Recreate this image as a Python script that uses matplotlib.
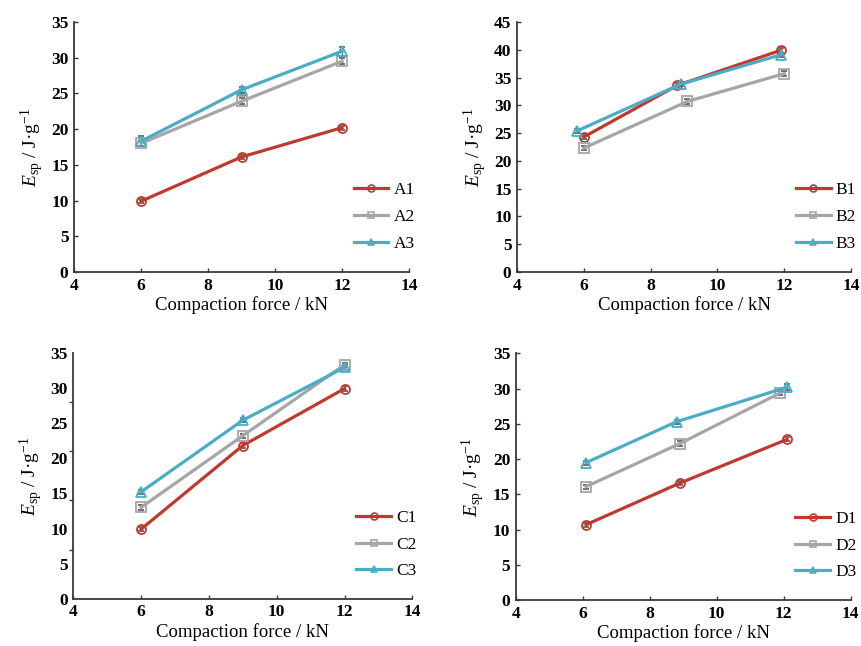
import matplotlib
matplotlib.use("Agg")
import matplotlib.pyplot as plt
from matplotlib.lines import Line2D
from matplotlib.ticker import MultipleLocator, FixedLocator, NullFormatter

plt.rcParams['font.family'] = ['Liberation Serif', 'DejaVu Serif']
plt.rcParams['mathtext.fontset'] = 'custom'
plt.rcParams['mathtext.rm'] = 'Liberation Serif'
plt.rcParams['mathtext.it'] = 'Liberation Serif:italic'

# ---- data ----
# Panel A
xA1 = [6, 9, 12];      yA1 = [9.9, 16.1, 20.2];  eA1 = [0.3, 0.3, 0.3]
xA2 = [6, 9, 12];      yA2 = [18.0, 23.9, 29.5]; eA2 = [0.4, 0.4, 0.4]
xA3 = [6, 9, 12];      yA3 = [18.3, 25.5, 30.9]; eA3 = [0.7, 0.4, 0.6]
# Panel B
xB1 = [6.0, 8.8, 11.9]; yB1 = [24.3, 33.6, 39.9]; eB1 = [0.4, 0.4, 0.4]
xB2 = [6.0, 9.1, 12.0]; yB2 = [22.3, 30.7, 35.7]; eB2 = [0.4, 0.4, 0.4]
xB3 = [5.8, 8.9, 11.9]; yB3 = [25.4, 33.8, 39.1]; eB3 = [0.3, 0.4, 0.4]
# Panel C
xC1 = [6, 9, 12];      yC1 = [9.9, 21.8, 29.9];  eC1 = [0.3, 0.3, 0.3]
xC2 = [6, 9, 12];      yC2 = [13.0, 23.2, 33.3]; eC2 = [0.3, 0.3, 0.3]
xC3 = [6, 9, 12];      yC3 = [15.2, 25.4, 32.9]; eC3 = [0.3, 0.3, 0.3]
# Panel D
xD1 = [6.1, 8.9, 12.1]; yD1 = [10.7, 16.6, 22.8]; eD1 = [0.3, 0.3, 0.3]
xD2 = [6.1, 8.9, 11.9]; yD2 = [16.1, 22.2, 29.4]; eD2 = [0.3, 0.3, 0.3]
xD3 = [6.1, 8.8, 12.1]; yD3 = [19.5, 25.3, 30.2]; eD3 = [0.3, 0.3, 0.4]

xticks = [4, 6, 8, 10, 12, 14]
xlabel = "Compaction force / kN"
ylabel = r"$E_{\mathrm{sp}}$ / J·g$^{\mathrm{-1}}$"

RED = '#C0392F'
GRAY = '#A6A6A6'
CYAN = '#4BACC6'
AXC = '#3a3a3a'

panels = [
    dict(pos=[0.086, 0.579, 0.389, 0.387], ymax=35,
         series=[(xA1, yA1, eA1, 'A1'), (xA2, yA2, eA2, 'A2'), (xA3, yA3, eA3, 'A3')]),
    dict(pos=[0.6005, 0.579, 0.388, 0.387], ymax=45,
         series=[(xB1, yB1, eB1, 'B1'), (xB2, yB2, eB2, 'B2'), (xB3, yB3, eB3, 'B3')]),
    dict(pos=[0.085, 0.073, 0.394, 0.381], ymax=35, odd=True,
         series=[(xC1, yC1, eC1, 'C1'), (xC2, yC2, eC2, 'C2'), (xC3, yC3, eC3, 'C3')]),
    dict(pos=[0.599, 0.071, 0.389, 0.382], ymax=35,
         series=[(xD1, yD1, eD1, 'D1'), (xD2, yD2, eD2, 'D2'), (xD3, yD3, eD3, 'D3')]),
]

styles = [(RED, 'o'), (GRAY, 's'), (CYAN, '^')]

fig = plt.figure(figsize=(8.61, 6.46), dpi=100)
for p in panels:
    ax = fig.add_axes(p['pos'])
    handles = []
    for (x, y, e, lab), (c, m) in zip(p['series'], styles):
        ax.errorbar(x, y, yerr=e, color=c, lw=2.3, marker=m, ms=6.5,
                    mfc='none', mec=c, mew=1.3, ecolor='#666666',
                    elinewidth=0.9, capsize=2.2)
        handles.append(Line2D([], [], color=c, lw=2.3, marker=m, ms=5,
                              mfc='none', mec=c, mew=1.2, label=lab))
    ax.set_xlim(4, 14)
    ax.set_ylim(0, p['ymax'])
    ax.set_xticks(xticks)
    ax.yaxis.set_major_locator(MultipleLocator(5))
    for s in ['top', 'right']:
        ax.spines[s].set_visible(False)
    for s in ['left', 'bottom']:
        ax.spines[s].set_color(AXC)
        ax.spines[s].set_linewidth(1.3)
    ax.tick_params(direction='in', length=3, width=1, color=AXC,
                   labelsize=12.5, pad=4)
    for t in ax.get_xticklabels() + ax.get_yticklabels():
        t.set_fontweight('bold')
    if p.get('odd'):
        ax.tick_params(axis='y', which='major', length=0)
        ax.yaxis.set_minor_locator(FixedLocator([0, 7, 14, 21, 28, 35]))
        ax.yaxis.set_minor_formatter(NullFormatter())
        ax.tick_params(axis='y', which='minor', direction='out', length=3,
                       width=1, color=AXC)
    ax.set_xlabel(xlabel, fontsize=13.5, labelpad=2)
    ax.set_ylabel(ylabel, fontsize=14, labelpad=4)
    ax.legend(handles=handles, loc='center left', bbox_to_anchor=(0.835, 0.22),
              frameon=False, fontsize=12.5, handlelength=2.0,
              handletextpad=0.3, labelspacing=0.6, borderpad=0,
              borderaxespad=0)

fig.savefig('out.png', dpi=100)
